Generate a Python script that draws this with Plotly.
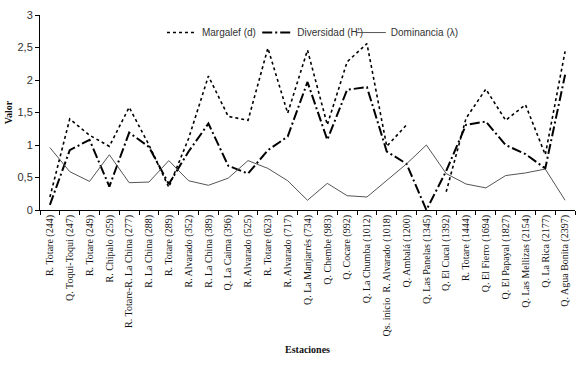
import plotly.graph_objects as go

estaciones = [
    "R. Totare (244)", "Q. Toqui-Toqui (247)", "R. Totare (249)", "R. Chipalo (259)",
    "R. Totare-R. La China (277)", "R. La China (288)", "R. Totare (289)",
    "R. Alvarado (352)", "R. La China (389)", "Q. La Caima (396)", "R. Alvarado (525)",
    "R. Totare (623)", "R. Alvarado (717)", "Q. La Manjarrés (734)", "Q. Chembe (983)",
    "Q. Cocare (992)", "Q. La Chumba (1012)", "Qs. inicio  R. Alvarado (1018)",
    "Q. Ambalá (1200)", "Q. Las Panelas (1345)", "Q. El Cucal (1392)", "R. Totare (1444)",
    "Q. El Fierro (1694)", "Q. El Papayal (1827)", "Q. Las Mellizas (2154)",
    "Q. La Rica (2177)", "Q. Agua Bonita (2397)",
]

margalef = [0.2, 1.40, 1.15, 0.98, 1.58, 1.0, 0.35, 1.1, 2.06, 1.44, 1.38, 2.49, 1.49,
            2.46, 1.31, 2.28, 2.56, 0.98, 1.31, None, 0.28, 1.41, 1.86, 1.38, 1.62,
            0.85, 2.44]
diversidad = [0.08, 0.92, 1.08, 0.36, 1.19, 0.97, 0.40, 0.9, 1.33, 0.68, 0.56, 0.92, 1.13,
              1.97, 1.08, 1.85, 1.89, 0.90, 0.71, 0.0, 0.6, 1.31, 1.36, 1.0, 0.86,
              0.64, 2.08]
dominancia = [0.96, 0.59, 0.44, 0.85, 0.42, 0.43, 0.76, 0.45, 0.38, 0.49, 0.76, 0.64, 0.45,
              0.15, 0.41, 0.22, 0.20, 0.46, 0.71, 1.0, 0.56, 0.40, 0.34, 0.53, 0.57,
              0.63, 0.15]

y_ticks = [0, 0.5, 1, 1.5, 2, 2.5, 3]

fig = go.Figure()
fig.add_trace(go.Scatter(x=estaciones, y=margalef, mode="lines", name="Margalef (d)",
                         line=dict(color="black", width=1.6, dash="3px,3px"),
                         connectgaps=False, legend="legend"))
fig.add_trace(go.Scatter(x=estaciones, y=diversidad, mode="lines", name="Diversidad (H')",
                         line=dict(color="black", width=2, dash="10px,3px,2px,3px"),
                         legend="legend2"))
fig.add_trace(go.Scatter(x=estaciones, y=dominancia, mode="lines", name="Dominancia (λ)",
                         line=dict(color="#555555", width=1), legend="legend3"))

leg_common = dict(orientation="h", y=0.91, xanchor="left", yanchor="middle",
                  bgcolor="rgba(0,0,0,0)", font=dict(size=10, color="#333333"),
                  itemwidth=30)

fig.update_layout(
    width=580, height=367,
    margin=dict(l=40, r=5, t=15, b=157, autoexpand=False),
    paper_bgcolor="white", plot_bgcolor="white",
    separators=",.",
    font=dict(family="Liberation Sans, Arial", size=11, color="#222222"),
    showlegend=True,
    legend=dict(x=0.228, **leg_common),
    legend2=dict(x=0.406, **leg_common),
    legend3=dict(x=0.581, **leg_common),
    xaxis=dict(
        type="category", tickson="boundaries", ticks="outside", ticklen=4,
        tickcolor="black", showline=True, linecolor="black", linewidth=1,
        showgrid=False, tickangle=-90, automargin=False,
        tickfont=dict(family="Liberation Serif, Times New Roman", size=10, color="#111111"),
        title=dict(text="<b>Estaciones</b>", standoff=10,
                   font=dict(family="Liberation Serif, Times New Roman", size=10, color="#111111")),
        range=[-0.5, len(estaciones) - 0.5],
    ),
    yaxis=dict(
        range=[0, 3], tickvals=y_ticks, ticks="outside", ticklen=4, tickcolor="black",
        showline=True, linecolor="black", linewidth=1, showgrid=False, zeroline=False,
        automargin=False,
        tickfont=dict(family="Liberation Sans, Arial", size=11, color="#333333"),
        title=dict(text="<b>Valor</b>", standoff=3,
                   font=dict(family="Liberation Serif, Times New Roman", size=10, color="#111111")),
    ),
)

fig.write_html("out.html", config={"displayModeBar": False},
               post_script="document.body.style.margin='0';document.body.style.overflow='hidden';")
